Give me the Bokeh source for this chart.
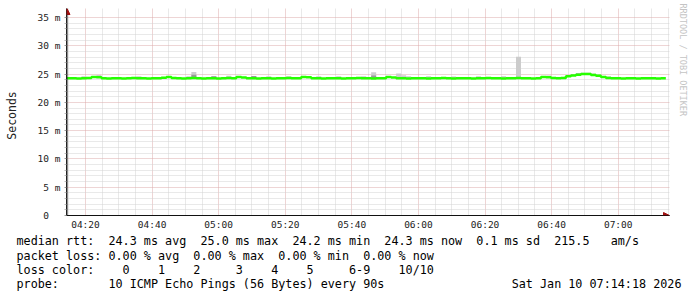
from bokeh.plotting import figure
from bokeh.models import FixedTicker, Arrow, NormalHead, Title
from bokeh.embed import file_html
from bokeh.resources import INLINE

# ---------------- data ----------------
t_start = 254.3          # 04:14:18 in minutes after midnight
step_min = 1.5           # 90 s sampling
median_ms = [
    24.25, 24.25, 24.2, 24.25, 24.3, 24.5, 24.45, 24.25, 24.2, 24.25,
    24.25, 24.2, 24.25, 24.3, 24.25, 24.25, 24.2, 24.25, 24.25, 24.35,
    24.5, 24.3, 24.25, 24.2, 24.25, 24.3, 24.25, 24.2, 24.25, 24.25,
    24.2, 24.25, 24.3, 24.25, 24.5, 24.4, 24.25, 24.25, 24.2, 24.25,
    24.25, 24.2, 24.25, 24.25, 24.3, 24.25, 24.25, 24.5, 24.45, 24.25,
    24.25, 24.2, 24.25, 24.25, 24.25, 24.2, 24.25, 24.25, 24.3, 24.25,
    24.25, 24.2, 24.25, 24.25, 24.5, 24.4, 24.25, 24.25, 24.2, 24.25,
    24.25, 24.25, 24.2, 24.25, 24.25, 24.3, 24.25, 24.2, 24.25, 24.25,
    24.25, 24.2, 24.25, 24.25, 24.3, 24.25, 24.25, 24.2, 24.25, 24.25,
    24.3, 24.25, 24.25, 24.2, 24.25, 24.5, 24.45, 24.3, 24.25, 24.3,
    24.6, 24.75, 24.9, 25.0, 25.0, 24.85, 24.7, 24.5, 24.3, 24.25,
    24.25, 24.2, 24.25, 24.25, 24.2, 24.25, 24.25, 24.25, 24.2, 24.25,
]
smoke_idx = [3, 6, 14, 24, 25, 29, 32, 37, 40, 44, 50, 54, 59, 61, 66, 67, 68,
             72, 77, 82, 87, 90, 96, 100, 101, 102, 103, 104, 105, 106, 108]
smoke_top = [24.6, 24.85, 24.6, 24.6, 25.35, 24.6, 24.7, 24.65, 24.6, 24.6, 24.6,
             24.6, 24.6, 25.3, 25.1, 24.8, 24.6, 24.6, 24.55, 24.6, 24.6, 28.05,
             24.75, 24.85, 25.0, 25.15, 25.25, 25.25, 25.1, 24.95, 24.6]
dark_idx = [25, 29, 37, 61, 102, 103, 104]
dark_top = [24.9, 24.6, 24.65, 24.75, 25.1, 25.2, 25.15]

x_tick_vals = [260, 280, 300, 320, 340, 360, 380, 400, 420]
x_tick_labels = ["04:20", "04:40", "05:00", "05:20", "05:40", "06:00", "06:20", "06:40", "07:00"]
y_tick_vals = [0, 5, 10, 15, 20, 25, 30, 35]
y_tick_labels = ["0\u00a0\u00a0", "5 m", "10 m", "15 m", "20 m", "25 m", "30 m", "35 m"]

# legend rows: (text, character column)
rtt_row = [("median rtt:", 0), ("24.3 ms avg", 13), ("25.0 ms max", 26), ("24.2 ms min", 39),
           ("24.3 ms now", 52), ("0.1 ms sd", 65), ("215.5", 76), ("am/s", 84)]
loss_row = [("packet loss:", 0), ("0.00 % avg", 13), ("0.00 % max", 25),
            ("0.00 % min", 37), ("0.00 % now", 49)]
probe_row = [("probe:", 0), ("10 ICMP Echo Pings (56 Bytes) every 90s", 13),
             ("Sat Jan 10 07:14:18 2026", 70)]
loss_title = "loss color:"
loss_labels = ["0", "1", "2", "3", "4", "5", "6-9", "10/10"]
loss_cols = [15, 20, 25, 31, 36, 41, 47, 54]

MONO = "DejaVu Sans Mono"
FS = "11.75px"
LH = 1.03
FL = 66          # frame left (canvas px)
X0 = 16          # legend text start (canvas px)

# ---------------- main graph ----------------
# frame: x 66..669 (3.33 px / min), y 8..215 (5.657 px / ms, 35 ms at y=17)
p = figure(width=697, height=297, x_range=(254.3, 435.4), y_range=(0, 36.59),
           output_backend="svg", toolbar_location=None,
           min_border_left=FL, min_border_right=28, min_border_top=8, min_border_bottom=82)
p.outline_line_color = None
p.background_fill_color = "white"
p.border_fill_color = "white"

x_minor = [m for m in range(255, 436, 5) if m not in x_tick_vals]
y_minor = [v for v in range(0, 36) if v not in y_tick_vals]
p.xaxis.ticker = FixedTicker(ticks=x_tick_vals, minor_ticks=x_minor)
p.yaxis.ticker = FixedTicker(ticks=y_tick_vals, minor_ticks=y_minor)
p.xaxis.major_label_overrides = dict(zip(x_tick_vals, x_tick_labels))
p.yaxis.major_label_overrides = dict(zip(y_tick_vals, y_tick_labels))

for g in (p.xgrid, p.ygrid):
    g.grid_line_color = "#dcaaaa"
    g.grid_line_dash = "1 1"
    g.grid_line_width = 1
    g.minor_grid_line_color = "#d2d2d2"
    g.minor_grid_line_dash = "1 1"
    g.minor_grid_line_width = 1

for ax in (p.xaxis, p.yaxis):
    ax.major_label_text_font = MONO
    ax.major_label_text_font_size = "9.5px"
    ax.major_label_text_color = "#222222"
    ax.axis_line_color = "#222222"

p.xaxis.major_tick_out = 0
p.xaxis.major_tick_in = 0
p.xaxis.minor_tick_out = 0
p.xaxis.minor_tick_in = 0
p.xaxis.major_label_standoff = 3

p.yaxis.major_tick_out = 2
p.yaxis.major_tick_in = 0
p.yaxis.minor_tick_out = 2
p.yaxis.minor_tick_in = 0
p.yaxis.major_tick_line_color = "#999999"
p.yaxis.minor_tick_line_color = "#bbbbbb"
p.yaxis.major_label_standoff = 4
p.yaxis.axis_label = "Seconds\u00a0"
p.yaxis.axis_label_text_font = MONO
p.yaxis.axis_label_text_font_size = "11.5px"
p.yaxis.axis_label_text_font_style = "normal"
p.yaxis.axis_label_text_color = "#222222"
p.yaxis.axis_label_standoff = 16

t = [t_start + step_min * i for i in range(len(median_ms))]
p.quad(left=[t[i] for i in smoke_idx], right=[t[i] + step_min for i in smoke_idx],
       bottom=[median_ms[i] for i in smoke_idx], top=smoke_top,
       fill_color="#cccccc", line_color=None)
p.quad(left=[t[i] for i in dark_idx], right=[t[i] + step_min for i in dark_idx],
       bottom=[median_ms[i] for i in dark_idx], top=dark_top,
       fill_color="#999999", line_color=None)
p.step(x=t + [t[-1] + step_min], y=median_ms + [median_ms[-1]], mode="after",
       line_color="#26ff00", line_width=2.5)

# axis arrow heads (inside the frame)
p.add_layout(Arrow(end=NormalHead(size=6, fill_color="#a01010", line_color="#a01010"),
                   x_start=0.5, y_start=0, x_end=0.5, y_end=207,
                   start_units="screen", end_units="screen", line_color="#222222", line_width=1))
p.add_layout(Arrow(end=NormalHead(size=6, fill_color="#a01010", line_color="#a01010"),
                   x_start=0, y_start=0, x_end=603, y_end=0,
                   start_units="screen", end_units="screen", line_color="#000000", line_width=1))

# watermark
p.add_layout(Title(text="RRDTOOL / TOBI OETIKER", align="left", text_font=MONO,
                   text_font_size="8.5px", text_color="#c4c4c4", text_font_style="normal",
                   standoff=16, offset=-5), "right")


# ---------------- legend block ----------------
def compose(chunks):
    s = ""
    for txt, col in chunks:
        gap = col - len(s)
        if gap > 0:
            s += " " + "\u00a0" * (gap - 1)
        s += txt
    return s


row3 = [(loss_title, 0)] + list(zip(loss_labels, loss_cols))
legend_text = "\n".join(compose(c) for c in (rtt_row, loss_row, row3, probe_row))
p.add_layout(Title(text=legend_text, align="left", text_font=MONO,
                   text_font_size=FS, text_color="#000000", text_line_height=LH,
                   text_font_style="normal", standoff=0, offset=X0 - FL), "below")

open("out.html", "w").write(file_html(p, INLINE))
